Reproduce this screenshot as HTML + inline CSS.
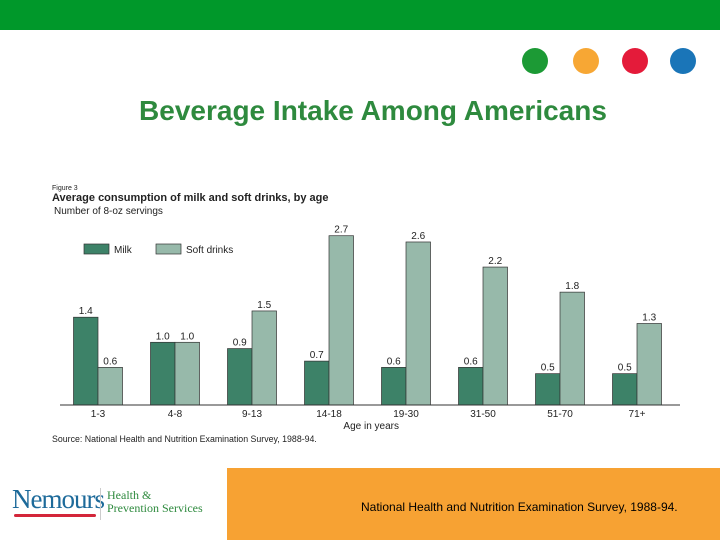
<!DOCTYPE html>
<html><head><meta charset="utf-8"><style>
body{margin:0;width:720px;height:540px;overflow:hidden;background:#fff;font-family:"Liberation Sans",sans-serif;position:relative}
.a{position:absolute}
</style></head><body>
<div class="a" style="left:0;top:0;width:720px;height:30px;background:#00982a"></div>
<div class="a" style="left:522px;top:48px;width:26px;height:26px;border-radius:50%;background:#1c9a35"></div>
<div class="a" style="left:573px;top:48px;width:26px;height:26px;border-radius:50%;background:#f7a734"></div>
<div class="a" style="left:622px;top:48px;width:26px;height:26px;border-radius:50%;background:#e41b3a"></div>
<div class="a" style="left:670px;top:48px;width:26px;height:26px;border-radius:50%;background:#1a75b8"></div>
<div class="a" style="left:0;top:95px;width:746px;text-align:center;font-size:28px;font-weight:bold;color:#2e8a3e">Beverage Intake Among Americans</div>
<svg class="a" style="left:0;top:0" width="720" height="540" id="chart"></svg>
<div class="a" style="left:227px;top:468px;width:493px;height:72px;background:#f7a233"></div>
<div class="a" style="left:361px;top:500px;font-size:12px;color:#000">National Health and Nutrition Examination Survey, 1988-94.</div>
<div class="a" style="left:12px;top:484px;font-family:'Liberation Serif',serif;font-size:27px;color:#1d6a9a;letter-spacing:-1px">Nemours</div>
<div class="a" style="left:14px;top:514px;width:82px;height:3px;background:#d3263a;border-radius:2px"></div>
<div class="a" style="left:100px;top:488px;width:1px;height:32px;background:#ccc"></div>
<div class="a" style="left:107px;top:489px;font-family:'Liberation Serif',serif;font-size:12px;line-height:13px;color:#2e8a3e">Health &amp;<br>Prevention Services</div>
<script>
const categories=["1-3","4-8","9-13","14-18","19-30","31-50","51-70","71+"];
const milk=[1.4,1.0,0.9,0.7,0.6,0.6,0.5,0.5];
const soft=[0.6,1.0,1.5,2.7,2.6,2.2,1.8,1.3];
const svg=document.getElementById('chart');
const NS='http://www.w3.org/2000/svg';
const base=405,scale=62.7,x0=98,step=77,bw=24.5;
function y(v){return base-v*scale;}
function mk(t,at,txt){const e=document.createElementNS(NS,t);for(const k in at)e.setAttribute(k,at[k]);if(txt!=null)e.textContent=txt;svg.appendChild(e);return e;}
function label(x,yy,txt,sz,w,anchor){return mk('text',{x:x,y:yy,'font-size':sz,'font-weight':w||'normal','text-anchor':anchor||'start',fill:'#222','font-family':'Liberation Sans, sans-serif'},txt);}
let e;
e=label(52,190,'Figure 3',7);
e=label(52,201,'Average consumption of milk and soft drinks, by age',11,'bold');
e=label(54,214,'Number of 8-oz servings',10);
e=mk('rect',{x:84,y:244,width:25,height:10,fill:'#3d8268',stroke:'#333','stroke-width':0.7});
e=label(114,253,'Milk',10);
e=mk('rect',{x:156,y:244,width:25,height:10,fill:'#97b9aa',stroke:'#333','stroke-width':0.7});
e=label(186,253,'Soft drinks',10);
categories.forEach((c,i)=>{
 const cx=x0+i*step;
 e=mk('rect',{x:cx-bw,y:y(milk[i]),width:bw,height:milk[i]*scale,fill:'#3d8268',stroke:'#333','stroke-width':0.7});
 
 e=mk('rect',{x:cx,y:y(soft[i]),width:bw,height:soft[i]*scale,fill:'#97b9aa',stroke:'#333','stroke-width':0.7});
 
 e=label(cx-bw/2,y(milk[i])-3,milk[i].toFixed(1),10,'normal','middle');
 
 e=label(cx+bw/2,y(soft[i])-3,soft[i].toFixed(1),10,'normal','middle');
 
 e=label(cx,417,c,10,'normal','middle');
 
});
e=mk('line',{x1:60,x2:680,y1:base,y2:base,stroke:'#333','stroke-width':1});
e=label(399,429,'Age in years',10,'normal','end');
e=label(52,442,'Source:  National Health and Nutrition Examination Survey, 1988-94.',8.8);
</script>
</body></html>
